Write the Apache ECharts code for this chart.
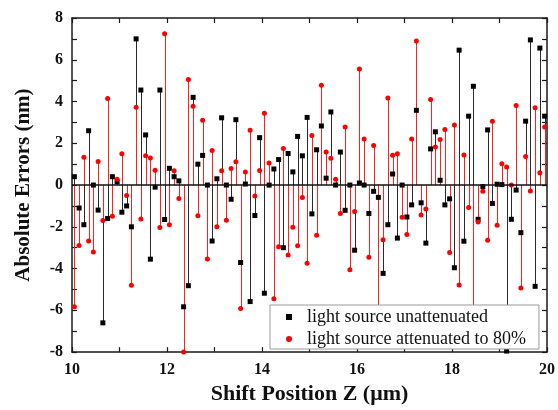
<!DOCTYPE html>
<html>
<head>
<meta charset="utf-8">
<script src="https://cdn.jsdelivr.net/npm/echarts@6/dist/echarts.min.js"></script>
<style>html,body{margin:0;padding:0;background:#fff;}#chart{width:558px;height:410px;}</style>
</head>
<body>
<div id="chart"></div>
<script>
// Shift positions (µm)
const zPos = [10.05,10.15,10.25,10.35,10.45,10.55,10.65,10.75,10.85,10.95,
11.05,11.15,11.25,11.35,11.45,11.55,11.65,11.75,11.85,11.95,
12.05,12.15,12.25,12.35,12.45,12.55,12.65,12.75,12.85,12.95,
13.05,13.15,13.25,13.35,13.45,13.55,13.65,13.75,13.85,13.95,
14.05,14.15,14.25,14.35,14.45,14.55,14.65,14.75,14.85,14.95,
15.05,15.15,15.25,15.35,15.45,15.55,15.65,15.75,15.85,15.95,
16.05,16.15,16.25,16.35,16.45,16.55,16.65,16.75,16.85,16.95,
17.05,17.15,17.25,17.35,17.45,17.55,17.65,17.75,17.85,17.95,
18.05,18.15,18.25,18.35,18.45,18.55,18.65,18.75,18.85,18.95,
19.05,19.15,19.25,19.35,19.45,19.55,19.65,19.75,19.85,19.95];

// Absolute errors (nm), light source unattenuated
const unattenuated = [0.4,-1.1,-1.9,2.6,0.0,-1.2,-6.6,-1.6,0.4,0.15,
-1.3,-1.0,-2.0,7.0,4.55,2.4,-3.55,-0.1,4.55,-1.65,
0.8,0.4,0.2,-5.83,-4.82,4.2,1.0,1.42,0.0,-2.68,
0.3,3.22,0.0,-0.68,3.13,-3.71,0.05,-5.58,-1.46,2.27,
-5.18,0.0,0.77,1.22,-3.0,1.51,0.63,2.33,1.4,3.24,
-1.38,1.69,2.83,0.33,3.5,0.0,1.58,-1.21,0.0,-3.12,
0.1,0.0,-1.36,-0.3,-0.59,-4.23,-1.9,0.53,-2.54,0.0,
-1.53,-0.95,3.58,-0.85,-2.78,1.73,2.55,0.23,-0.95,-0.66,
-3.96,6.46,-2.69,3.3,4.73,-1.64,-0.07,2.64,-0.88,0.04,
0.02,-7.95,-1.64,-0.24,-2.28,3.06,6.95,-4.85,6.56,3.3];

// Absolute errors (nm), light source attenuated to 80%
const attenuated = [-5.83,-2.9,1.33,-2.68,-3.21,1.13,-1.7,4.15,-1.5,0.28,
1.5,-0.5,-4.8,3.72,-1.63,1.4,1.3,0.71,-2.03,7.25,
-1.9,0.68,-0.64,-8.0,5.05,3.77,-1.47,3.1,-3.54,1.65,
-2.0,0.69,-1.68,0.79,1.12,-5.91,0.62,2.62,-0.52,0.7,
3.44,1.05,-5.45,-2.96,1.75,-3.35,-2.02,-2.91,-0.6,-3.75,
2.37,-2.4,4.78,1.58,1.28,0.28,-1.36,2.78,-4.06,-1.27,
5.56,2.2,-3.46,1.89,-6.2,-2.62,4.17,1.43,1.5,-1.54,
-2.37,2.2,6.9,-1.44,-1.15,4.1,1.82,2.18,2.66,-3.23,
2.87,-4.79,1.44,-1.07,-6.5,-1.77,-0.3,-2.64,3.06,-1.93,
1.02,0.86,0.0,3.81,-4.93,1.37,-0.29,3.7,0.59,2.78];

const seriesNames = ['light source unattenuated', 'light source attenuated to 80%'];
const xTickLabels = ['10','12','14','16','18','20'];
const yTickLabels = ['-8','-6','-4','-2','0','2','4','6','8'];

const FONT = '"Liberation Serif", "Times New Roman", serif';
const AXIS_COLOR = '#1a1a1a';

function pairs(vals){ return vals.map((v,i)=>[zPos[i], v]); }

function stemSeries(vals, color){
  return {
    type: 'custom',
    silent: true,
    data: pairs(vals),
    encode: {x: 0, y: 1},
    renderItem: function(params, api){
      const x = api.value(0), y = api.value(1);
      const p0 = api.coord([x, 0]);
      const p1 = api.coord([x, y]);
      const px = Math.round(p0[0]) + 0.5;
      return {type:'line', shape:{x1:px, y1:p0[1], x2:px, y2:p1[1]},
        style:{stroke:color, lineWidth:1}};
    }
  };
}

const axisCommon = {
  axisLine:{show:true, onZero:false, lineStyle:{color:AXIS_COLOR, width:1.5}},
  axisTick:{show:true, inside:true, length:5, lineStyle:{color:AXIS_COLOR, width:1.2}},
  splitLine:{show:false}
};

const chart = echarts.init(document.getElementById('chart'), null, {renderer:'canvas'});
chart.setOption({
  animation:false,
  backgroundColor:'#fff',
  grid:{left:72, right:10, top:18, bottom:53, containLabel:false},
  xAxis:[
    Object.assign({}, axisCommon, {
      type:'value', min:10, max:20, interval:1, position:'bottom',
      name:'Shift Position Z (\u03bcm)', nameLocation:'middle', nameGap:28,
      nameTextStyle:{fontFamily:FONT, fontWeight:'bold', fontSize:22, color:'#111'},
      axisLabel:{margin:10, fontFamily:FONT, fontWeight:'bold', fontSize:16, color:'#111',
        formatter:function(v){ const s = String(v); return xTickLabels.indexOf(s) >= 0 ? s : ''; }}
    }),
    Object.assign({}, axisCommon, {
      type:'value', min:10, max:20, interval:1, position:'top', axisLabel:{show:false}
    })
  ],
  yAxis:[
    Object.assign({}, axisCommon, {
      type:'value', min:-8, max:8, interval:1, position:'left',
      name:'Absolute Errors (nm)', nameLocation:'middle', nameGap:38, nameRotate:90,
      nameTextStyle:{fontFamily:FONT, fontWeight:'bold', fontSize:21, color:'#111'},
      axisLabel:{margin:9, fontFamily:FONT, fontWeight:'bold', fontSize:16, color:'#111',
        formatter:function(v){ const s = String(v); return yTickLabels.indexOf(s) >= 0 ? s : ''; }}
    }),
    Object.assign({}, axisCommon, {
      type:'value', min:-8, max:8, interval:1, position:'right', axisLabel:{show:false}
    })
  ],
  legend:{
    data:[{name:seriesNames[0], icon:'rect'}, {name:seriesNames[1], icon:'circle'}],
    orient:'vertical', left:270, top:305,
    padding:[3, 13, 1, 16], itemGap:4, itemWidth:6, itemHeight:6,
    backgroundColor:'#fff', borderColor:'#999', borderWidth:1,
    textStyle:{fontFamily:FONT, fontSize:18, color:'#111', padding:[0,0,0,10]},
    selectedMode:false
  },
  series:[
    Object.assign(stemSeries(unattenuated, '#2a2a2a'), {
      markLine:{silent:true, symbol:'none', label:{show:false},
        lineStyle:{color:'#111', width:1.6, type:'solid'}, data:[{yAxis:0}]}
    }),
    {type:'scatter', name:seriesNames[0], data:pairs(unattenuated), symbol:'rect', symbolSize:5,
      itemStyle:{color:'#000', opacity:1}, silent:true},
    stemSeries(attenuated, '#ff2020'),
    {type:'scatter', name:seriesNames[1], data:pairs(attenuated), symbol:'circle', symbolSize:5,
      itemStyle:{color:'#ff0000', opacity:1}, silent:true}
  ]
});
</script>
</body>
</html>
